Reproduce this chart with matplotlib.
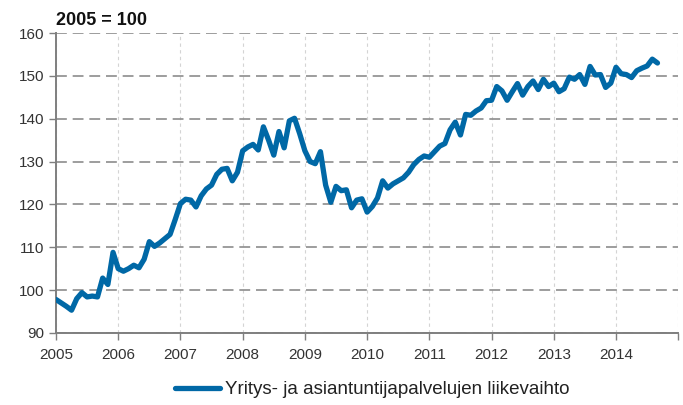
#!/usr/bin/env python3
"""Business and professional services turnover index, 2005 = 100."""

import numpy as np
import matplotlib

matplotlib.use("Agg")
import matplotlib.pyplot as plt
from matplotlib import font_manager

START_YEAR = 2005
SERIES_LABEL = "Yritys- ja asiantuntijapalvelujen liikevaihto"
BASE_LABEL = "2005 = 100"

# monthly index values, Jan 2005 .. Sep 2014
turnover = [
    97.8, 97.0, 96.2, 95.3, 98.0, 99.4, 98.4, 98.6, 98.4, 102.8, 101.3, 108.8,
    105.0, 104.4, 105.0, 105.8, 105.2, 107.2, 111.3, 110.2, 111.0, 112.0, 113.0, 116.5,
    120.2, 121.2, 121.0, 119.4, 122.0, 123.6, 124.5, 127.0, 128.2, 128.4, 125.5, 127.5,
    132.5, 133.4, 134.0, 132.7, 138.1, 135.0, 131.5, 137.0, 133.2, 139.5, 140.1, 136.5,
    132.5, 130.0, 129.5, 132.3, 124.5, 120.5, 124.2, 123.2, 123.4, 119.2, 121.0, 121.3,
    118.2, 119.5, 121.5, 125.5, 123.8, 124.8, 125.5, 126.2, 127.5, 129.3, 130.5, 131.3,
    131.0, 132.3, 133.6, 134.2, 137.4, 139.2, 136.2, 141.0, 140.8, 141.8, 142.5, 144.2,
    144.3, 147.5, 146.5, 144.3, 146.3, 148.2, 145.5, 147.5, 148.8, 146.8, 149.2, 147.5,
    148.3, 146.3, 147.0, 149.7, 149.2, 150.3, 148.0, 152.2, 150.2, 150.3, 147.3, 148.3,
    152.0, 150.5, 150.3, 149.6, 151.2, 151.8, 152.3, 153.9, 153.0,
]
year_ticks = list(range(2005, 2016))
year_labels = [str(y) for y in range(2005, 2015)] + [""]
y_ticks = [90, 100, 110, 120, 130, 140, 150, 160]

LINE_COLOR = "#0068a6"

installed = {f.name for f in font_manager.fontManager.ttflist}
family = ["Liberation Sans Narrow"] if "Liberation Sans Narrow" in installed \
    else ["Liberation Sans"]
plt.rcParams["font.family"] = family + ["DejaVu Sans"]

x = START_YEAR + np.arange(len(turnover)) / 12.0

fig = plt.figure(figsize=(6.83, 4.05), dpi=100)
ax = fig.add_axes([0.082, 0.178, 0.911, 0.7405])

ax.plot(x, turnover, color=LINE_COLOR, lw=3.8, solid_capstyle="round",
        solid_joinstyle="round", label=SERIES_LABEL, zorder=3)

ax.set_xlim(2005, 2015)
ax.set_ylim(90, 160)
ax.set_xticks(year_ticks)
ax.set_xticklabels(year_labels)
ax.set_yticks(y_ticks)

ax.yaxis.grid(True, color="#8c8c8c", ls=(0, (6.5, 3.5)), lw=1.2, zorder=1)
ax.xaxis.grid(True, color="#d4d4d4", ls=(0, (3, 3)), lw=0.8, zorder=1)
ax.set_axisbelow(True)

for side in ("top", "right"):
    ax.spines[side].set_visible(False)
for side in ("left", "bottom"):
    ax.spines[side].set_color("#7f7f7f")
    ax.spines[side].set_linewidth(1.4)
ax.tick_params(axis="both", colors="#7f7f7f", length=5, width=1.0,
               labelsize=11, labelcolor="#333333")
ax.tick_params(axis="x", pad=6)

ax.text(0.0, 1.012, BASE_LABEL, transform=ax.transAxes, ha="left",
        va="bottom", fontsize=13, fontweight="bold", color="#111111")

fig.legend(loc="lower center", bbox_to_anchor=(0.545, -0.025), frameon=False,
           fontsize=13.5, handlelength=2.4, handletextpad=0.3,
           labelcolor="#222222")

fig.savefig("out.png", dpi=100)
